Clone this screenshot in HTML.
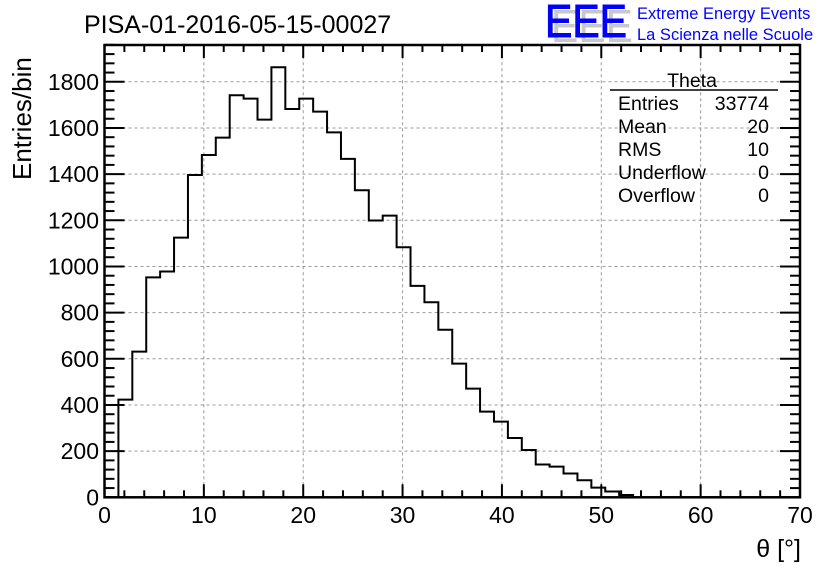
<!DOCTYPE html>
<html><head><meta charset="utf-8"><style>
html,body{margin:0;padding:0;background:#fff;}
svg{display:block;font-family:"Liberation Sans",sans-serif;}
</style></head><body>
<svg id="c" width="836" height="572" viewBox="0 0 836 572">
<text x="84" y="33" font-size="25">PISA-01-2016-05-15-00027</text>
<g>
<text x="551" y="42" font-size="46" fill="#c8c8c8" textLength="82" lengthAdjust="spacingAndGlyphs">EEE</text>
<text x="545" y="37" font-size="46" fill="#0000ff" stroke="#0000ff" stroke-width="1" textLength="82" lengthAdjust="spacingAndGlyphs">EEE</text>
<text x="637" y="19" font-size="16.5" fill="#0000ff">Extreme Energy Events</text>
<text x="637" y="40" font-size="16.5" fill="#0000ff">La Scienza nelle Scuole</text>
</g>
<g id="grid"></g>
<g id="hist"></g>
<g id="axes"></g>
<text transform="translate(31,180) rotate(-90)" font-size="26" text-anchor="start">Entries/bin</text>
<text x="801" y="557" font-size="25" text-anchor="end">θ [°]</text>
<g font-size="19.5">
<text x="692" y="87" text-anchor="middle">Theta</text>
<line x1="610" y1="90" x2="778" y2="90" stroke="#000" stroke-width="1.5"/>
<text x="618" y="110">Entries</text><text x="769" y="110" text-anchor="end">33774</text>
<text x="618" y="133">Mean</text><text x="769" y="133" text-anchor="end">20</text>
<text x="618" y="156">RMS</text><text x="769" y="156" text-anchor="end">10</text>
<text x="618" y="179">Underflow</text><text x="769" y="179" text-anchor="end">0</text>
<text x="618" y="202">Overflow</text><text x="769" y="202" text-anchor="end">0</text>
</g>
</svg>
<script>
const binWidth = 1.4;
const binCounts = [0,423,631,953,978,1125,1396,1483,1558,1742,1727,1636,1863,1682,1727,1671,1581,1466,1330,1199,1220,1083,916,845,726,579,471,371,328,257,205,142,133,103,74,42,25,10,0,0,0,0,0,0,0,0,0,0,0,0];
const xTicks = [0,10,20,30,40,50,60,70];
const yTicks = [0,200,400,600,800,1000,1200,1400,1600,1800];

const NS = "http://www.w3.org/2000/svg";
const X0 = 104.5, X1 = 800, Y0 = 497.3, Y1 = 45;
const xMax = 70, yPer = 138.5/3/200;
const sx = v => X0 + v/xMax*(X1-X0);
const sy = v => Y0 - v*yPer;
function mk(tag, attrs, parent){ const e=document.createElementNS(NS,tag); for(const k in attrs) e.setAttribute(k,attrs[k]); parent.appendChild(e); return e; }
const grid=document.getElementById('grid'), hist=document.getElementById('hist'), axes=document.getElementById('axes');

xTicks.forEach(t=>{ if(t>0&&t<xMax){ const l=mk('line',{x1:sx(t),x2:sx(t),y1:Y0,y2:Y1,stroke:'#999','stroke-dasharray':'3,3','stroke-width':1},grid);

 }});
yTicks.forEach(t=>{ if(t>0){ const l=mk('line',{x1:X0,x2:X1,y1:sy(t),y2:sy(t),stroke:'#999','stroke-dasharray':'3,3','stroke-width':1},grid);

 }});

let d = 'M'+sx(0)+','+sy(0);
binCounts.forEach((c,i)=>{ d += ' L'+sx(i*binWidth)+','+sy(c)+' L'+sx((i+1)*binWidth)+','+sy(c); });
d += ' L'+sx(binCounts.length*binWidth)+','+sy(0);
const p = mk('path',{d:d,fill:'none',stroke:'#000','stroke-width':2},hist);



const fr = mk('rect',{x:X0,y:Y1,width:X1-X0,height:Y0-Y1,fill:'none',stroke:'#000','stroke-width':2.5},axes);


for(let v=0; v<=xMax+1e-9; v+=2){ const maj = v%10===0; const L = maj?13:7;
  mk('line',{x1:sx(v),x2:sx(v),y1:Y0,y2:Y0-L,stroke:'#000','stroke-width':2},axes);
  mk('line',{x1:sx(v),x2:sx(v),y1:Y1,y2:Y1+L,stroke:'#000','stroke-width':2},axes); }
for(let v=0; sy(v)>=Y1-0.5; v+=40){ const maj = v%200===0; const L = maj?20:10;
  mk('line',{x1:X0,x2:X0+L,y1:sy(v),y2:sy(v),stroke:'#000','stroke-width':2},axes);
  mk('line',{x1:X1,x2:X1-L,y1:sy(v),y2:sy(v),stroke:'#000','stroke-width':2},axes); }
xTicks.forEach(t=>{ const e=mk('text',{x:sx(t),y:523,'font-size':23,'text-anchor':'middle'},axes); e.textContent=t;

 });
yTicks.forEach(t=>{ const e=mk('text',{x:99,y:sy(t)+8,'font-size':23,'text-anchor':'end'},axes); e.textContent=t;

 });
</script>
</body></html>
